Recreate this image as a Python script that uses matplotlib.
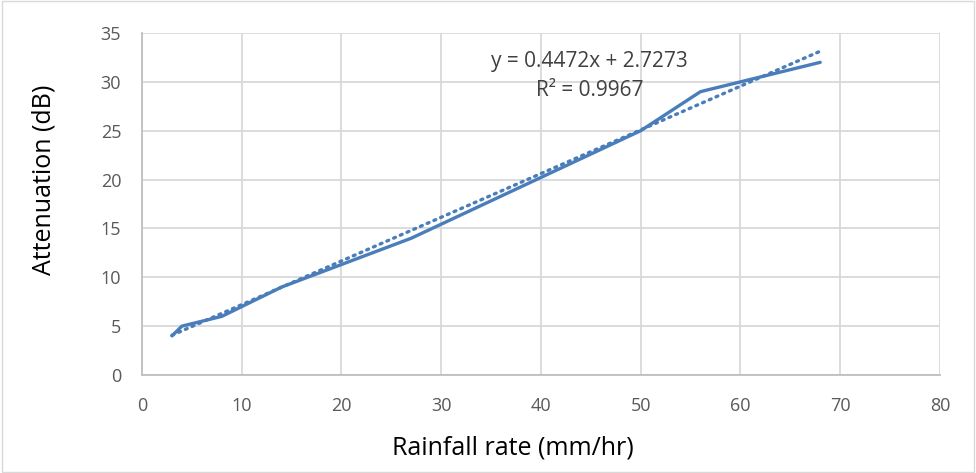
import numpy as np
import matplotlib.pyplot as plt
from matplotlib.patches import Rectangle

# measured data
rain = [3, 4, 8, 14, 27, 50, 56, 68]
atten = [4, 5, 6, 9, 14, 25, 29, 32]

# trendline coefficients as printed on the chart
slope = 0.4472
intercept = 2.7273
r2 = 0.9967

plt.rcParams['font.family'] = ['Open Sans', 'DejaVu Sans']

fig = plt.figure(figsize=(9.76, 4.73), dpi=100)
ax = fig.add_axes([0.1455, 0.2072, 0.8175, 0.723])

blue = '#4a7ebb'
ax.plot(rain, atten, color=blue, lw=2.4, solid_capstyle='round', zorder=3)

xt = np.array([rain[0], rain[-1]])
ax.plot(xt, slope * xt + intercept, color=blue, lw=2.4, ls=(0, (0.6, 1.6)),
        dash_capstyle='round', zorder=3)

ax.text(44.9, 32.05, f'y = {slope}x + {intercept}', ha='center', va='center',
        fontsize=15, color='#404040')
ax.text(44.9, 29.15, f'R² = {r2}', ha='center', va='center',
        fontsize=15, color='#404040')

ax.set_xlim(0, 80)
ax.set_ylim(0, 35)
ax.set_xticks(range(0, 81, 10))
ax.set_yticks(range(0, 36, 5))
ax.grid(True, color='#d9d9d9', lw=1.3)
ax.set_axisbelow(True)
for s in ['top', 'right']:
    ax.spines[s].set_visible(False)
for s in ['left', 'bottom']:
    ax.spines[s].set_color('#bfbfbf')
    ax.spines[s].set_linewidth(1.3)
ax.tick_params(length=0, labelsize=13, labelcolor='#595959')
ax.tick_params(axis='x', pad=16)
ax.tick_params(axis='y', pad=15)

ax.set_xlabel('Rainfall rate (mm/hr)', fontsize=18, va='center')
ax.xaxis.set_label_coords(0.465, -0.213)
ax.set_ylabel('Attenuation (dB)', fontsize=18, va='center')
ax.yaxis.set_label_coords(-0.123, 0.57)

fig.patches.append(Rectangle((0.002, 0.003), 0.996, 0.994, transform=fig.transFigure,
                             fill=False, edgecolor='#d9d9d9', lw=1))

fig.savefig('out.png', dpi=100)
